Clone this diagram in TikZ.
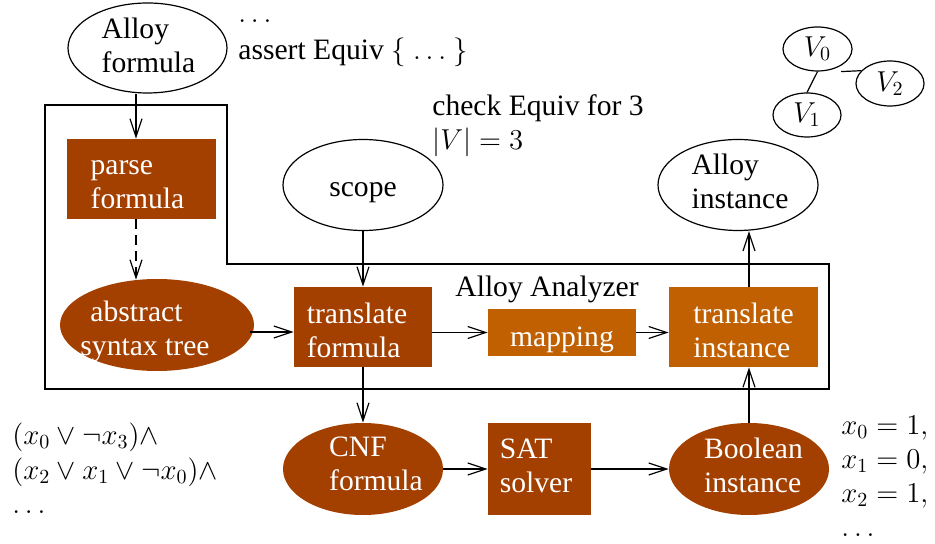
\documentclass[tikz,border=0pt]{standalone}
\usepackage{fontspec}
\setmainfont{Liberation Serif}
\usetikzlibrary{arrows.meta,calc,shapes.geometric}
\definecolor{rust}{RGB}{163,64,0}
\definecolor{amber}{RGB}{192,96,0}
\begin{document}
\begin{tikzpicture}[x=0.5pt,y=-0.5pt,
  every node/.style={font=\fontsize{14.8}{17}\selectfont},
  line/.style={line width=0.6pt},
  arr/.style={line width=0.6pt,-{Straight Barb[length=9pt,width=6pt,line width=0.6pt]}},
  oval/.style={ellipse,draw,line width=0.6pt,inner sep=0pt},
  dark/.style={fill=rust,inner sep=0pt},
  light/.style={fill=amber,inner sep=0pt},
  ovaldark/.style={ellipse,fill=rust,inner sep=0pt},
  wtxt/.style={text=white,align=left,inner sep=0pt},
  btxt/.style={align=left,inner sep=0pt}]
\useasboundingbox (0,0) rectangle (935,544);

% Alloy Analyzer frame
\draw[line] (45,105) -- (227,105) -- (227,264) -- (829,264) -- (829,389) -- (45,389) -- cycle;
\node[anchor=base west,inner sep=0pt] (aa) at (455,297) {Alloy Analyzer};

% input side
\node[oval,minimum width=79.5pt,minimum height=45pt,
      label={[btxt,xshift=0.5pt,yshift=1.25pt]center:Alloy\\formula}] (alloyf) at (147.5,48) {};
\node[anchor=base west,btxt] (asrt) at (238,60) {$\dots$\\[1.5pt]assert Equiv $\{\ \dots\ \}$};
\node[dark,minimum width=74.5pt,minimum height=40pt,
      label={[wtxt,xshift=-2pt,yshift=-2.75pt]center:parse\\formula}] (parse) at (141.5,179) {};
\node[ovaldark,minimum width=97pt,minimum height=46pt,
      label={[wtxt,xshift=-6pt,yshift=-3.25pt]center:\hspace*{5pt}abstract\\syntax tree}] (ast) at (157,325) {};

% scope
\node[oval,minimum width=80pt,minimum height=45.5pt,
      label={[btxt,yshift=-4pt]center:scope}] (scope) at (363,185) {};
\node[anchor=base west,btxt] (chk) at (432,150) {check Equiv for 3\\$|V|=3$};

% translation pipeline
\node[dark,minimum width=69pt,minimum height=40pt,
      label={[wtxt,xshift=-3pt,yshift=-1.5pt]center:translate\\formula}] (tf) at (363,327) {};
\node[light,minimum width=74pt,minimum height=23.5pt,
      label={[wtxt,yshift=-3.5pt]center:mapping}] (map) at (562,332.5) {};
\node[light,minimum width=74.5pt,minimum height=40pt,
      label={[wtxt,yshift=-1.5pt]center:translate\\instance}] (ti) at (743.5,327) {};
\node[oval,minimum width=80pt,minimum height=45.5pt,
      label={[btxt,xshift=1pt,yshift=2pt]center:Alloy\\instance}] (ainst) at (738,185) {};

% SAT side
\node[ovaldark,minimum width=80pt,minimum height=46pt,
      label={[wtxt,xshift=6.5pt,yshift=2.75pt]center:CNF\\formula}] (cnf) at (363,469) {};
\node[dark,minimum width=51.5pt,minimum height=46pt,
      label={[wtxt,xshift=-1.75pt,yshift=1.5pt]center:SAT\\solver}] (sat) at (539.5,469) {};
\node[ovaldark,minimum width=80pt,minimum height=46pt,
      label={[wtxt,xshift=2.25pt,yshift=1.75pt]center:Boolean\\instance}] (bool) at (749,469) {};

\node[anchor=base west,btxt] (cls) at (12,513)
  {$(x_0\vee\neg x_3)\wedge$\\[0.5pt]$(x_2\vee x_1\vee\neg x_0)\wedge$\\$\dots$};
\node[anchor=base west,btxt] (vals) at (841,536)
  {$x_0=1,$\\$x_1=0,$\\$x_2=1,$\\$\dots$};

% small instance graph
\node[oval,minimum width=34.5pt,minimum height=22pt] (v0) at (817.5,49) {$V_0$};
\node[oval,minimum width=34pt,minimum height=22.5pt] (v2) at (890,83.5) {$V_2$};
\node[oval,minimum width=34pt,minimum height=22pt] (v1) at (807,115) {$V_1$};
\draw[line] (v0.south) -- (v1.north);
\draw[line] ($(v0.south)+(23.5,0)$) -- (v2.156);

% connectors
\coordinate (colA) at (136,0);
\coordinate (rowA) at (0,332);
\draw[arr] (alloyf.south -| colA) -- (parse.north -| colA);
\draw[arr,dashed,dash pattern=on 5pt off 3pt] (parse.south -| colA) -- ($(ast.north -| colA)+(0,1)$);
\draw[arr] (scope.south) -- (tf.north);
\draw[arr] ($(ast.east |- rowA)+(-4,0)$) -- (tf.west |- rowA);
\draw[arr] (tf.east |- map.west) -- (map.west);
\draw[arr] (map.east) -- (map.east -| ti.west);
\draw[arr] (tf.south) -- (cnf.north);
\draw[arr] (cnf.east) -- (sat.west);
\draw[arr] (sat.east) -- (bool.west);
\draw[arr] (bool.north) -- (ti.south -| bool);
\draw[arr] (ti.north -| bool) -- (ainst.south -| bool);
\end{tikzpicture}
\end{document}
